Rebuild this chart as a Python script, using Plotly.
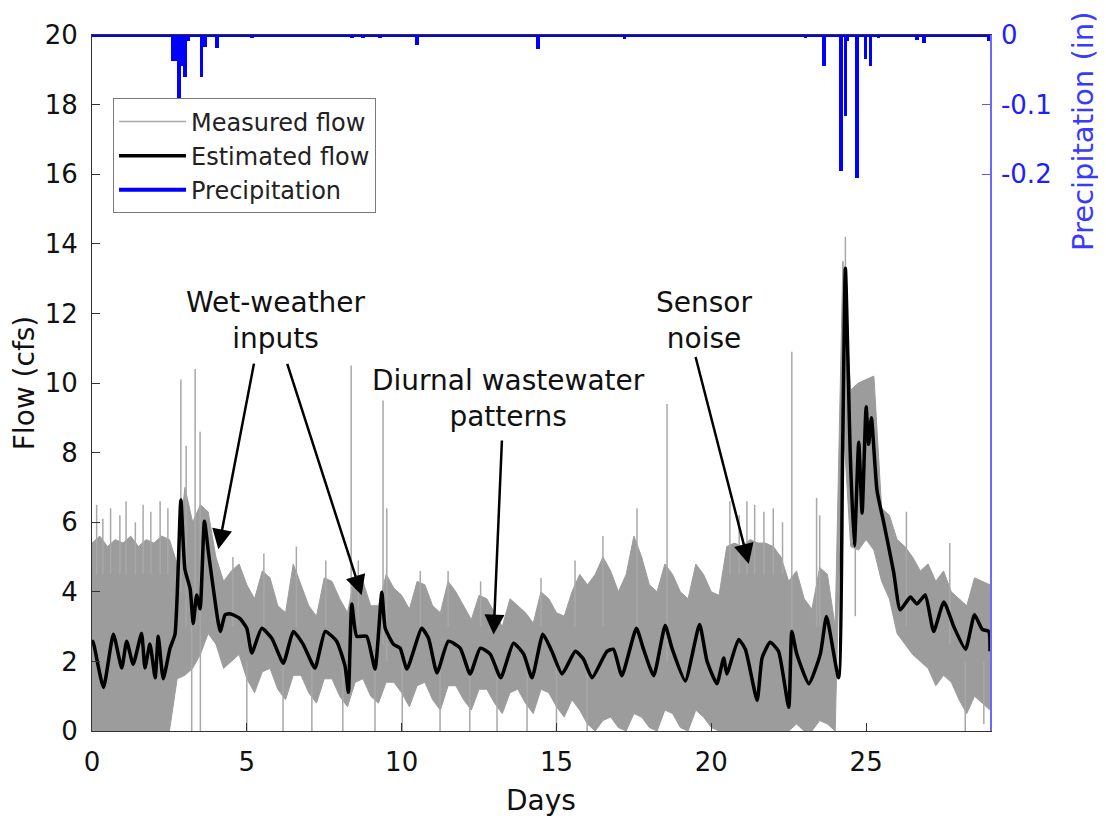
import plotly.graph_objects as go

FONT = "DejaVu Sans"

# ---------------- data ----------------
# Measured flow envelope, every 0.25 day from 0 to 29
env_days = [i * 0.25 for i in range(117)]
meas_upper = [
    5.4, 5.6, 5.3, 5.5, 5.4, 5.6, 5.3, 5.5, 5.4, 5.6, 5.5,           # 0 - 2.5
    4.8, 7.0, 6.0, 6.5, 6.3, 5.0, 4.3, 4.6, 4.8,                     # 2.75 - 4.75
    4.2, 3.8, 4.6, 4.4, 3.6, 3.4, 4.8, 4.2, 3.6, 3.3, 4.4, 4.3,      # 5 - 7.75
    3.8, 3.4, 4.5, 4.3, 3.6, 3.6, 4.5, 4.1,                          # 8 - 9.75
    3.9, 3.5, 4.3, 4.2, 3.6, 3.4, 4.3, 4.0, 3.6, 3.2, 3.9, 3.8,      # 10 - 12.75
    3.4, 3.0, 3.8, 3.6, 3.4, 3.1, 4.0, 3.8, 3.4, 3.3, 4.0, 4.5,      # 13 - 15.75
    4.2, 4.5, 5.0, 4.6, 4.0, 4.5, 5.6, 5.0, 4.2, 4.0, 4.8, 4.5,      # 16 - 18.75
    4.0, 3.8, 4.8, 4.5, 4.0, 3.9, 5.3, 5.4, 5.3, 5.5, 5.4, 5.4,      # 19 - 21.75
    5.3, 5.0, 4.3, 4.6, 3.8, 3.5, 4.7, 4.5, 3.0, 13.5, 9.8, 10.0,    # 22 - 24.75
    10.1, 10.2, 6.4, 6.2, 5.5, 5.3, 5.0, 4.6, 4.8, 4.3, 4.6, 4.0,    # 25 - 27.75
    3.8, 3.6, 4.4, 4.3, 4.2,                                         # 28 - 29
]
meas_lower = [
    0, 0, 0, 0, 0, 0, 0, 0, 0, 0, 0,
    1.5, 1.6, 1.8, 2.2, 2.8, 2.5, 1.8, 2.0, 2.2,
    1.5, 1.1, 1.7, 1.8, 1.2, 0.9, 1.6, 1.6, 1.1, 0.8, 1.5, 1.5,
    1.0, 0.7, 1.4, 1.5, 1.0, 0.8, 1.4, 1.4,
    1.1, 0.7, 1.3, 1.4, 0.9, 0.6, 1.3, 1.3, 0.9, 0.6, 1.2, 1.2,
    0.8, 0.5, 1.1, 1.2, 0.8, 0.5, 1.2, 1.1, 0.7, 0.4, 0.9, 0.6,
    0.2, 0.0, 0.3, 0.4, 0.1, 0.0, 0.5, 0.4, 0.1, 0.0, 0.6, 0.5,
    0.1, 0.0, 0.6, 0.4, 0.1, 0.0, 0.0, 0.0, 0.0, 0.0, 0.0, 0.0,
    0.0, 0.0, 0.0, 0.2, 0.0, 0.0, 0.3, 0.2, 0.0, 9.0, 5.3, 5.2,
    5.5, 5.2, 4.3, 3.8, 2.8, 2.5, 2.2, 2.0, 1.8, 1.3, 1.6, 1.4,
    0.9, 0.5, 1.0, 0.8, 0.6,
]

# Isolated measured-flow excursions (day, top, bottom)
spike_days = [0.15, 0.35, 0.6, 0.9, 1.1, 1.4, 1.65, 1.9, 2.2, 2.45,
              2.87, 3.04, 3.22, 3.33, 3.49, 3.5, 8.37, 9.4, 9.52, 17.6, 18.57,
              20.6, 20.9, 21.15, 21.4, 21.7, 22.0, 22.3, 22.6, 23.4, 23.5,
              24.33, 24.65, 26.3, 27.7, 28.2, 28.8,
              # upper fringe in the diurnal section
              4.55, 5.55, 6.6, 7.55, 8.6, 10.6, 11.5, 12.55, 14.5, 15.6, 16.5,
              # drop-outs to zero in the diurnal section
              5.0, 6.17, 7.1, 8.1, 9.14, 10.02, 11.24, 12.2, 13.08, 14.05,
              15.0, 15.99]
spike_top = [6.5, 6.1, 6.4, 6.2, 6.6, 6.0, 6.5, 6.3, 6.6, 6.4,
             10.1, 8.2, 3.0, 10.4, 8.6, 3.0, 10.5, 9.5, 6.4, 6.4, 9.4,
             6.6, 6.2, 6.6, 6.5, 6.3, 6.4, 6.0, 10.9, 6.7, 6.2,
             14.2, 5.4, 6.3, 5.4, 2.0, 2.0,
             5.0, 5.1, 5.3, 4.9, 4.9, 4.6, 4.6, 4.3, 4.4, 4.9, 5.6,
             2.0, 2.0, 2.0, 2.0, 2.0, 2.0, 2.0, 2.0, 2.0, 2.0,
             2.0, 2.0]
spike_bottom = [4.5, 4.5, 4.5, 4.5, 4.5, 4.5, 4.5, 4.5, 4.5, 4.5,
                4.0, 3.0, 0.0, 3.0, 3.0, 0.0, 2.0, 2.5, 2.0, 3.0, 2.0,
                4.5, 4.5, 4.5, 4.5, 4.5, 4.5, 4.5, 2.0, 3.0, 3.0,
                8.0, 3.3, 3.0, 2.5, 0.0, 0.2,
                3.0, 3.0, 3.0, 3.0, 3.0, 3.0, 3.0, 3.0, 3.0, 3.0, 3.0,
                0.0, 0.0, 0.0, 0.0, 0.0, 0.0, 0.0, 0.0, 0.0, 0.0,
                0.0, 0.0]

# Estimated flow
est_days = [0.0, 0.03, 0.37, 0.69, 0.96, 1.12, 1.33, 1.6, 1.71, 1.87, 2.04, 2.14, 2.30,
            2.52, 2.68, 2.87, 3.0, 3.17, 3.27, 3.38, 3.49, 3.63, 3.76, 3.92, 4.14,
            4.30, 4.46, 4.78, 5.0, 5.16, 5.48, 5.81, 6.18, 6.5, 6.82, 7.2, 7.53,
            7.9, 8.17, 8.28, 8.39, 8.55, 8.87, 9.14, 9.36, 9.47, 9.74, 9.95, 10.17,
            10.65, 10.87, 11.14, 11.51, 11.89, 12.21, 12.54, 12.86, 13.2, 13.61,
            13.94, 14.21, 14.56, 14.85, 15.18, 15.61, 15.87, 16.15, 16.63, 16.84,
            17.11, 17.58, 17.81, 18.14, 18.51, 18.73, 19.16, 19.62, 19.86, 20.18,
            20.4, 20.5, 20.88, 21.1, 21.48, 21.64, 21.9, 22.17, 22.5, 22.6, 22.76,
            23.15, 23.52, 23.72, 24.11, 24.24, 24.33, 24.49, 24.62, 24.76, 24.87,
            25.0, 25.08, 25.17, 25.35, 25.57, 25.89, 26.1, 26.43, 26.64, 26.91,
            27.18, 27.51, 27.83, 28.21, 28.5, 28.75, 28.96, 29.0]
est_flow = [2.5, 2.58, 1.25, 2.78, 1.81, 2.58, 1.92, 2.8, 1.81, 2.5, 1.53, 2.72, 1.5,
            2.38, 2.78, 6.64, 4.65, 4.08, 3.09, 3.91, 3.51, 6.03, 5.13, 4.08, 2.86,
            3.34, 3.37, 3.23, 2.95, 2.24, 2.95, 2.66, 1.95, 2.86, 2.49, 1.81, 2.86,
            2.58, 1.87, 1.11, 3.65, 2.72, 2.72, 1.78, 3.99, 2.95, 2.49, 2.38, 1.78,
            2.95, 2.66, 1.67, 2.58, 2.38, 1.64, 2.38, 2.21, 1.53, 2.52,
            2.21, 1.53, 2.78, 2.29, 1.64, 2.29, 2.07, 1.53, 2.29, 2.35,
            1.59, 2.95, 2.35, 1.59, 3.03, 2.38, 1.44, 3.06, 2.01, 1.36,
            2.1, 1.64, 2.63, 2.35, 0.88, 2.1, 2.55, 2.29, 0.68, 2.86, 2.21,
            1.36, 2.21, 3.29, 1.53, 8.0, 13.3, 7.87, 5.32, 8.3, 6.26,
            9.32, 8.24, 9.0, 6.91, 5.98, 4.56, 3.48, 3.85, 3.65, 3.91,
            2.86, 3.71, 3.0, 2.35, 3.34, 2.92, 2.86, 2.29]

# Precipitation (inches, plotted downward from the top)
precip_days = [2.6, 2.7, 2.82, 2.92, 3.0, 3.1, 3.54, 3.65, 4.03, 5.16, 8.4, 8.75, 9.3,
               10.5, 14.4, 17.2, 23.04, 23.63, 24.19, 24.33, 24.38, 24.71, 24.98,
               25.14, 25.4, 26.64, 26.86, 28.15, 28.95]
precip_in = [-0.038, -0.038, -0.092, -0.045, -0.061, -0.008, -0.061, -0.017, -0.019,
             -0.005, -0.004, -0.005, -0.004, -0.015, -0.02, -0.006, -0.004, -0.045,
             -0.196, -0.116, -0.008, -0.205, -0.035, -0.045, -0.005, -0.007, -0.012,
             -0.003, -0.008]
precip_base_days = [0, 29]
precip_base = [0, 0]

x_ticks = [0, 5, 10, 15, 20, 25]
y_ticks = [0, 2, 4, 6, 8, 10, 12, 14, 16, 18, 20]
y2_ticks = [0, -0.1, -0.2]
y2_labels = ["0", "-0.1", "-0.2"]

# ---------------- figure ----------------
GRAY = "#9c9c9c"
BLUE = "#0000ff"

fig = go.Figure()

# measured flow envelope (filled band)
fig.add_trace(go.Scatter(x=env_days, y=meas_lower, mode="lines",
                         line=dict(color=GRAY, width=1),
                         showlegend=False, hoverinfo="skip"))
fig.add_trace(go.Scatter(x=env_days, y=meas_upper, mode="lines",
                         line=dict(color=GRAY, width=1),
                         fill="tonexty", fillcolor=GRAY,
                         showlegend=False, hoverinfo="skip"))

# measured flow excursions
sx, sy = [], []
for d, t, b in zip(spike_days, spike_top, spike_bottom):
    sx += [d, d, None]
    sy += [b, t, None]
fig.add_trace(go.Scatter(x=sx, y=sy, mode="lines",
                         line=dict(color="#a8a8a8", width=1.5),
                         name="Measured flow", legendrank=1))

# estimated flow
fig.add_trace(go.Scatter(x=est_days, y=est_flow, mode="lines",
                         line=dict(color="black", width=3.5, shape="spline", smoothing=0.5),
                         name="Estimated flow", legendrank=2))

# precipitation
fig.add_trace(go.Bar(x=precip_days, y=precip_in, yaxis="y2", width=0.12,
                     marker=dict(color=BLUE, line=dict(width=0)),
                     showlegend=False, hoverinfo="skip"))
fig.add_trace(go.Scatter(x=precip_base_days, y=precip_base, yaxis="y2", mode="lines",
                         line=dict(color=BLUE, width=4),
                         name="Precipitation", legendrank=3, cliponaxis=False))

# annotations
ann_font = dict(family=FONT, size=28, color="#111111")
annotations = [
    dict(x=5.95, y=11.8, xref="x", yref="y", text="Wet-weather<br>inputs",
         showarrow=False, font=ann_font),
    dict(x=13.45, y=9.55, xref="x", yref="y", text="Diurnal wastewater<br>patterns",
         showarrow=False, font=ann_font),
    dict(x=19.75, y=11.8, xref="x", yref="y", text="Sensor<br>noise",
         showarrow=False, font=ann_font),
    dict(x=1.1036, y=0.862, xref="paper", yref="paper", text="Precipitation (in)",
         xanchor="center", yanchor="middle", textangle=-90, showarrow=False,
         font=dict(family=FONT, size=29, color="#3a3aff")),
]
arrows = [((5.24, 10.6), (4.08, 5.22)),
          ((6.29, 10.59), (8.71, 3.9)),
          ((13.24, 8.39), (12.97, 2.77)),
          ((19.48, 10.79), (21.21, 4.8))]
for (tx, ty), (hx, hy) in arrows:
    annotations.append(dict(x=hx, y=hy, ax=tx, ay=ty, xref="x", yref="y",
                            axref="x", ayref="y", text="", showarrow=True,
                            arrowhead=2, arrowsize=1.6, arrowwidth=2.5,
                            arrowcolor="black", standoff=0, startstandoff=0))

fig.update_layout(
    width=1106, height=821,
    margin=dict(l=84, r=124, t=17, b=98),
    paper_bgcolor="white", plot_bgcolor="white",
    font=dict(family=FONT, size=25, color="#222222"),
    showlegend=True,
    legend=dict(x=0.0234, y=0.909, xanchor="left", yanchor="top",
                traceorder="normal",
                bgcolor="white", bordercolor="#7a7a7a", borderwidth=1,
                font=dict(family=FONT, size=24, color="#222222"),
                tracegroupgap=0, itemwidth=67),
    bargap=0,
    annotations=annotations,
    xaxis=dict(range=[0, 29], tickvals=x_ticks, ticks="inside", ticklen=8,
               tickcolor="#333333", showline=True, linecolor="#333333", linewidth=1,
               mirror=True, showgrid=False, zeroline=False, ticklabelstandoff=8,
               tickfont=dict(family=FONT, size=26, color="#111111"),
               title=dict(text="Days", font=dict(family=FONT, size=28, color="#111111"),
                          standoff=14)),
    yaxis=dict(range=[0, 20], tickvals=y_ticks, ticks="inside", ticklen=8,
               tickcolor="#333333", showline=True, linecolor="#333333", linewidth=1,
               showgrid=False, zeroline=False, ticklabelstandoff=8,
               tickfont=dict(family=FONT, size=26, color="#111111"),
               title=dict(text="Flow (cfs)", font=dict(family=FONT, size=28, color="#111111"),
                          standoff=4)),
    yaxis2=dict(range=[-1, 0], overlaying="y", side="right", tickvals=y2_ticks,
                ticktext=y2_labels, ticks="inside", ticklen=8, tickcolor="#5a5aff",
                showline=True, linecolor="#6a6aff", linewidth=1.5,
                showgrid=False, zeroline=False, ticklabelstandoff=4,
                tickfont=dict(family=FONT, size=26, color="#2020ff")),
)

fig.write_html("out.html")
